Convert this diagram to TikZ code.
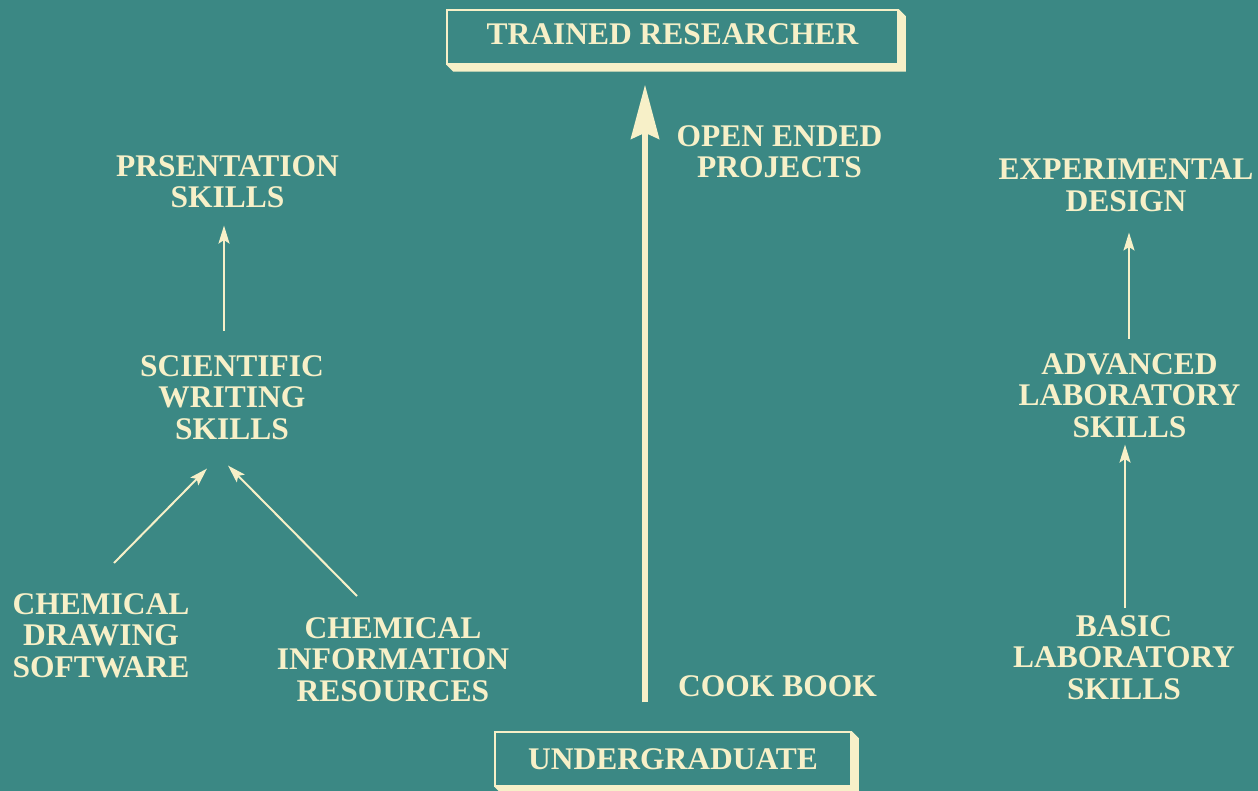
\documentclass[tikz,border=0pt]{standalone}
\usepackage{fontspec}
\setmainfont{Liberation Serif}
\usetikzlibrary{arrows.meta,calc}
\definecolor{slate}{HTML}{3B8884}
\definecolor{cream}{HTML}{F7F0C8}
\begin{document}
\begin{tikzpicture}[x=1pt,y=-1pt,
  caption/.style={text=cream, font=\fontsize{31.5}{31.5}\selectfont\bfseries,
    align=center, inner sep=0pt, anchor=north},
  slab/.style={draw=cream, line width=1.5pt, inner sep=0pt, text=cream,
    font=\fontsize{31.5}{31.5}\selectfont\bfseries},
  thinarrow/.style={draw=cream, line width=2pt,
    -{Stealth[length=18pt,width=11pt,inset=3.5pt]}},
  bigarrow/.style={draw=cream, line width=6pt,
    -{Stealth[length=54pt,width=28pt,inset=6pt]}},
]
% background
\fill[slate] (0,0) rectangle (1258,791);
\useasboundingbox (0,0) rectangle (1258,791);

% framed end points of the main path
\node[slab, minimum width=451pt, minimum height=54pt, text height=21pt, text depth=5pt]
  (top) at (672.5,37) {TRAINED RESEARCHER};
\node[slab, minimum width=356pt, minimum height=54pt, text height=21pt, text depth=1pt]
  (base) at (673,759) {UNDERGRADUATE};
% raised edges of the frames
\foreach \b in {top,base}{
  \fill[cream] (\b.north east) -- ++(7,7) -- ($(\b.south east)+(7,7)$)
    -- ($(\b.south west)+(7,7)$) -- (\b.south west) -- (\b.south east) -- cycle;
}

% left column
\node[caption] (pres) at (227.5,155) {PRSENTATION\\SKILLS};
\node[caption] (sci) at (232,355) {SCIENTIFIC\\WRITING\\SKILLS};
\node[caption] (chemdraw) at (101,593) {CHEMICAL\\DRAWING\\SOFTWARE};
\node[caption] (cheminfo) at (393,617) {CHEMICAL\\INFORMATION\\RESOURCES};

% middle column
\node[caption] (open) at (779.5,125) {OPEN ENDED\\PROJECTS};
\node[caption] (cook) at (777.5,675) {COOK BOOK};

% right column
\node[caption] (exp) at (1126,159) {EXPERIMENTAL\\DESIGN};
\node[caption] (adv) at (1129.5,353) {ADVANCED\\LABORATORY\\SKILLS};
\node[caption] (basic) at (1124,615) {BASIC\\LABORATORY\\SKILLS};

% connectors
\draw[bigarrow] ($(base.north)+(-28,-29)$) -- ($(top.south)+(-27.5,20)$);
\draw[thinarrow] ($(sci.north)+(-8,-24)$) -- ($(pres.south)+(-3.5,17.5)$);
\draw[thinarrow] ($(chemdraw.north)+(13,-30)$) -- ($(sci.south)+(-25,29)$);
\draw[thinarrow] ($(cheminfo.north)+(-36,-21)$) -- ($(sci.south)+(-4,26)$);
\draw[thinarrow] ($(adv.north)+(-0.5,-14)$) -- ($(exp.south)+(3,20.5)$);
\draw[thinarrow] ($(basic.north)+(1,-7)$) -- ($(adv.south)+(-4.5,7)$);
\end{tikzpicture}
\end{document}
